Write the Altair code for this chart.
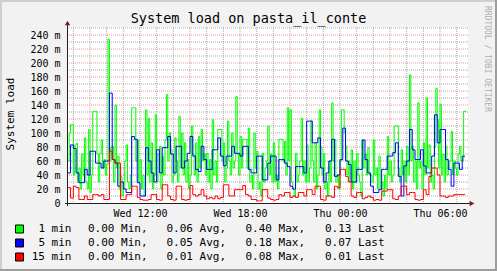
import altair as alt
import pandas as pd

# ---------------- data (values in milli-load) ----------------
START = "2024-01-03 07:40"      # first sample (Wednesday)

# 1-minute load, one value every 5 minutes
load_1min = [
    60, 100, 112, 112, 40, 83, 85, 30, 50, 20, 70, 40, 93, 30, 20, 105, 15, 40, 131, 131,
    131, 70, 30, 71, 90, 50, 62, 40, 55, 234, 60, 80, 81, 30, 140, 50, 67, 20, 38, 10,
    20, 60, 83, 30, 20, 40, 136, 136, 136, 60, 90, 30, 62, 20, 40, 10, 133, 40, 121, 30,
    86, 20, 40, 126, 30, 70, 81, 20, 67, 40, 90, 155, 60, 100, 76, 30, 40, 93, 60, 30,
    124, 50, 100, 40, 86, 30, 62, 20, 40, 110, 70, 40, 86, 30, 95, 50, 105, 60, 70, 40,
    71, 30, 62, 20, 119, 40, 60, 30, 105, 105, 105, 60, 86, 30, 50, 117, 60, 40, 100, 50,
    60, 152, 70, 40, 95, 50, 91, 91, 91, 50, 107, 30, 40, 20, 100, 50, 74, 20, 30, 10,
    71, 30, 50, 60, 110, 40, 70, 30, 86, 30, 40, 20, 91, 91, 91, 60, 88, 40, 136, 60,
    133, 30, 20, 10, 71, 30, 40, 60, 121, 40, 60, 30, 83, 30, 50, 117, 60, 30, 86, 20,
    40, 133, 80, 40, 71, 20, 30, 10, 60, 30, 143, 60, 91, 30, 40, 20, 60, 133, 133, 100,
    81, 40, 60, 30, 76, 20, 60, 30, 71, 40, 30, 10, 90, 50, 70, 40, 79, 40, 40, 30,
    90, 40, 50, 20, 67, 20, 30, 10, 40, 20, 95, 40, 60, 30, 40, 110, 110, 110, 50, 30,
    76, 40, 60, 30, 81, 40, 183, 60, 81, 30, 60, 20, 143, 50, 60, 20, 86, 40, 150, 50,
    83, 30, 40, 20, 80, 164, 119, 50, 141, 40, 70, 30, 81, 40, 50, 60, 102, 40, 60, 50,
    40, 70, 81, 60, 60, 131, 131, 131,
]
# 5- and 15-minute load, one value every 10 minutes
load_5min = [
    43, 83, 78, 43, 29, 29, 48, 40, 74, 74, 57, 57, 50, 60, 60, 157, 62, 57, 24, 30,
    20, 15, 15, 95, 91, 29, 10, 10, 79, 60, 43, 30, 76, 43, 79, 79, 95, 70, 43, 81,
    81, 50, 60, 71, 95, 67, 48, 45, 81, 62, 48, 48, 76, 76, 93, 67, 53, 67, 67, 81,
    71, 71, 67, 81, 81, 48, 43, 43, 67, 67, 33, 33, 57, 67, 67, 33, 62, 62, 57, 52,
    24, 20, 52, 52, 52, 43, 117, 117, 86, 86, 93, 50, 30, 43, 60, 91, 38, 40, 62, 107,
    60, 55, 30, 30, 48, 48, 90, 62, 43, 24, 15, 15, 19, 48, 48, 67, 67, 72, 86, 38,
    10, 53, 60, 105, 76, 62, 62, 76, 53, 43, 43, 67, 126, 86, 105, 105, 62, 48, 24, 57,
    57, 48, 67, 67,
]
load_15min = [
    22, 7, 24, 22, 5, 5, 10, 5, 5, 12, 12, 10, 12, 5, 5, 74, 62, 57, 57, 5,
    5, 12, 12, 24, 24, 8, 5, 4, 4, 5, 12, 12, 5, 4, 26, 26, 10, 5, 4, 24,
    24, 5, 4, 5, 25, 12, 10, 12, 19, 10, 6, 8, 6, 10, 6, 8, 26, 26, 10, 10,
    19, 19, 19, 25, 12, 10, 5, 5, 3, 3, 19, 19, 7, 5, 4, 5, 12, 10, 15, 15,
    8, 10, 8, 15, 15, 10, 19, 19, 12, 24, 24, 5, 4, 10, 10, 8, 24, 22, 48, 48,
    38, 30, 10, 8, 15, 15, 6, 8, 10, 8, 4, 5, 4, 17, 17, 19, 19, 6, 5, 10,
    24, 24, 12, 15, 15, 5, 4, 5, 19, 12, 38, 50, 50, 40, 10, 10, 8, 10, 10, 12,
    12, 12, 12, 12,
]

series_names = ["1 min", "5 min", "15 min"]
series_colors = ["#00FF00", "#0000FF", "#FF0000"]
stat_min = ["0.00", "0.00", "0.00"]
stat_avg = ["0.06", "0.05", "0.01"]
stat_max = ["0.40", "0.18", "0.08"]
stat_last = ["0.13", "0.07", "0.01"]

title_text = "System load on pasta_il_conte"
y_title = "System load"
watermark = "RRDTOOL / TOBI OETIKER"

x_tick_times = ["2024-01-03 12:00", "2024-01-03 18:00", "2024-01-04 00:00", "2024-01-04 06:00"]
domain_start = "2024-01-03 07:37:12"
domain_end = "2024-01-04 07:40:48"
y_max = 251.43
y_label_values = list(range(0, 241, 20))

# ---------------- helpers ----------------
W, H = 401, 176
PAD_L, PAD_T = 67, 27
FONT = "DejaVu Sans Mono"


def ms(s):
    return int(pd.Timestamp(s, tz="UTC").value // 10**6)


def tstrings(n, freq):
    return [t.strftime("%Y-%m-%dT%H:%M:%SZ") for t in pd.date_range(START, periods=n, freq=freq)]


x_scale = alt.Scale(type="utc", domain=[ms(domain_start), ms(domain_end)])
y_scale = alt.Scale(domain=[0, y_max], nice=False)

x_enc = alt.X(
    "t:T",
    scale=x_scale,
    title=None,
    axis=alt.Axis(
        values=[ms(s) for s in x_tick_times],
        labelExpr="utcFormat(datum.value, '%a %H:%M')",
        grid=False, domain=False, ticks=False,
        labelFont=FONT, labelFontSize=10, labelColor="black",
        labelPadding=5, labelFlush=False, labelOverlap=False,
    ),
)
y_enc = alt.Y(
    "v:Q",
    scale=y_scale,
    title=None,
    axis=alt.Axis(
        values=y_label_values,
        labelExpr="datum.value == 0 ? '0' : datum.value + ' m'",
        grid=False, domain=False, ticks=False,
        labelFont=FONT, labelFontSize=10, labelColor="black",
        labelPadding=7, labelFlush=False, labelOverlap=False,
    ),
)

one = pd.DataFrame({"a": [0]})
layers = []


def rect(x, x2, y, y2, color, stroke=None):
    m = alt.Chart(one).mark_rect(color=color, stroke=stroke, strokeWidth=1 if stroke else 0)
    return m.encode(x=alt.value(x), x2=alt.value(x2), y=alt.value(y), y2=alt.value(y2))


# 3d frame
layers += [
    rect(-PAD_L, 497 - PAD_L, -PAD_T, -PAD_T + 2, "#CFCFCF"),
    rect(-PAD_L, -PAD_L + 2, -PAD_T, 271 - PAD_T, "#CFCFCF"),
    rect(-PAD_L, 497 - PAD_L, 271 - PAD_T - 2, 271 - PAD_T, "#9E9E9E"),
    rect(497 - PAD_L - 2, 497 - PAD_L, -PAD_T, 271 - PAD_T, "#9E9E9E"),
]

# grid
hours = pd.date_range("2024-01-03 08:00", "2024-01-04 07:00", freq="h")
major_hours = [h for h in hours if h.hour in (3, 9, 15, 21)]
minor_hours = [h for h in hours if h.hour not in (3, 9, 15, 21)]
grid_minor_x = pd.DataFrame({"t": [h.strftime("%Y-%m-%dT%H:%M:%SZ") for h in minor_hours]})
grid_major_x = pd.DataFrame({"t": [h.strftime("%Y-%m-%dT%H:%M:%SZ") for h in major_hours]})
grid_minor_y = pd.DataFrame({"v": list(range(10, 251, 20))})
grid_major_y = pd.DataFrame({"v": list(range(20, 241, 20))})

MINOR = "rgba(143,143,143,0.75)"
MAJOR = "rgba(222,79,79,0.6)"
layers += [
    alt.Chart(grid_minor_x).mark_rule(color=MINOR, strokeDash=[1, 1], strokeWidth=1).encode(
        x=x_enc, y=alt.value(0), y2=alt.value(H)),
    alt.Chart(grid_minor_y).mark_rule(color=MINOR, strokeDash=[1, 1], strokeWidth=1).encode(
        y=y_enc, x=alt.value(0), x2=alt.value(W)),
    alt.Chart(grid_major_x).mark_rule(color=MAJOR, strokeDash=[1, 1], strokeWidth=1).encode(
        x=x_enc, y=alt.value(0), y2=alt.value(H)),
    alt.Chart(grid_major_y).mark_rule(color=MAJOR, strokeDash=[1, 1], strokeWidth=1).encode(
        y=y_enc, x=alt.value(0), x2=alt.value(W)),
]

# series lines
for vals, col, freq in zip([load_1min, load_5min, load_15min], series_colors, ["5min", "10min", "10min"]):
    df = pd.DataFrame({"t": tstrings(len(vals), freq), "v": vals})
    layers.append(
        alt.Chart(df).mark_line(interpolate="step-after", color=col, strokeWidth=1).encode(x=x_enc, y=y_enc)
    )

# axis lines + arrows
AXIS = "#1F1F1F"
ARROW = "#801F1F"
layers += [
    alt.Chart(one).mark_rule(color=AXIS, strokeWidth=1).encode(
        x=alt.value(0.5), y=alt.value(H + 3), y2=alt.value(-2)),
    alt.Chart(one).mark_rule(color=AXIS, strokeWidth=1).encode(
        x=alt.value(-2), x2=alt.value(W + 2), y=alt.value(H + 0.5)),
    alt.Chart(one).mark_point(shape="triangle-up", filled=True, size=30, color=ARROW, opacity=1).encode(
        x=alt.value(0.5), y=alt.value(-4)),
    alt.Chart(one).mark_point(shape="triangle-right", filled=True, size=30, color=ARROW, opacity=1).encode(
        x=alt.value(W + 4), y=alt.value(H + 0.5)),
]


def text(s, x, y, size, **kw):
    return alt.Chart(one).mark_text(text=s, font=FONT, fontSize=size, **kw).encode(
        x=alt.value(x), y=alt.value(y))


layers += [
    text(title_text, 248.5 - PAD_L, 19 - PAD_T, 13.5, color="black", align="center", baseline="middle"),
    text(y_title, 11 - PAD_L, 114 - PAD_T, 11, color="black", align="center", baseline="middle", angle=270),
    text(watermark, 487 - PAD_L, 59 - PAD_T, 8, color="black", opacity=0.3, align="center",
         baseline="middle", angle=90),
]

# legend (columns placed separately)
for i, (nm, col) in enumerate(zip(series_names, series_colors)):
    cy = 229 + 14 * i - PAD_T
    layers.append(rect(15.5 - PAD_L, 23.5 - PAD_L, cy - 4, cy + 4, col, stroke="black"))
    layers.append(text(nm, 71.5 - PAD_L, cy, 11, color="black", align="right", baseline="middle"))
    for s, x0 in [(f"{stat_min[i]} Min,", 88), (f"{stat_avg[i]} Avg,", 166.5),
                  (f"{stat_max[i]} Max,", 245.5), (f"{stat_last[i]} Last", 325)]:
        layers.append(text(s, x0 - PAD_L, cy, 11, color="black", align="left", baseline="middle"))

chart = alt.layer(*layers).properties(
    width=W, height=H,
    padding={"left": PAD_L, "top": PAD_T, "right": 497 - PAD_L - W, "bottom": 271 - PAD_T - H},
    autosize=alt.AutoSizeParams(type="none"),
).configure(background="#F2F2F2").configure_view(fill="white", stroke=None)

chart.save("out.html", embed_options={"renderer": "svg", "actions": False})
